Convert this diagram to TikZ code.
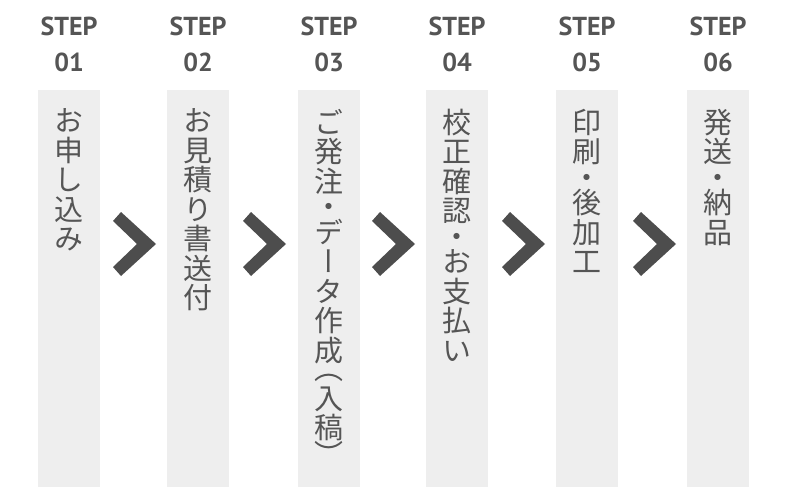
\documentclass[tikz,border=0pt]{standalone}
\usepackage{fontspec}
\setmainfont{PT Sans}
\newfontfamily\jpfont[RawFeature=+vert]{Noto Sans CJK JP}
\definecolor{stepgray}{HTML}{555555}
\definecolor{barfill}{HTML}{EEEEEE}
\definecolor{chevgray}{HTML}{4D4D4D}
\tikzset{
  bar/.style={fill=barfill, minimum width=62pt, minimum height=397pt, inner sep=0pt},
  steplabel/.style={anchor=base, text=stepgray, font=\bfseries\fontsize{26}{26}\selectfont},
  steptext/.style={anchor=north, inner sep=0pt, align=center, text=stepgray,
    font=\jpfont\fontsize{29}{29.5}\selectfont},
  chevron/.pic={\fill[chevgray] (0,-23) -- (8,-32) -- (43,0) -- (8,32) -- (0,23) -- (24,0) -- cycle;}
}
\begin{document}
\begin{tikzpicture}[x=1pt,y=-1pt]
	\useasboundingbox (0,0) rectangle (800,500);
	
	\node[bar] (bar1) at (69,288.5) {};
	\node[bar] (bar2) at (198,288.5) {};
	\node[bar] (bar3) at (329,288.5) {};
	\node[bar] (bar4) at (457,288.5) {};
	\node[bar] (bar5) at (587,288.5) {};
	\node[bar] (bar6) at (718,288.5) {};
	
	\node[steplabel] (step1) at (69,36) {STEP};
	\node[steplabel] (step2) at (198,36) {STEP};
	\node[steplabel] (step3) at (329,36) {STEP};
	\node[steplabel] (step4) at (457,36) {STEP};
	\node[steplabel] (step5) at (587,36) {STEP};
	\node[steplabel] (step6) at (718,36) {STEP};
	
	\node[steplabel] (num1) at (69,72) {01};
	\node[steplabel] (num2) at (198,72) {02};
	\node[steplabel] (num3) at (329,72) {03};
	\node[steplabel] (num4) at (457,72) {04};
	\node[steplabel] (num5) at (587,72) {05};
	\node[steplabel] (num6) at (718,72) {06};
	
	\node[steptext] (text1) at ([yshift=-19pt]bar1.north) {お\\申\\し\\込\\み};
	\node[steptext] (text2) at ([yshift=-19pt]bar2.north) {お\\見\\積\\り\\書\\送\\付};
	\node[steptext] (text3) at ([yshift=-19pt]bar3.north) {ご\\発\\注\\[-4pt]・\\[-4pt]デ\\ー\\タ\\作\\成\\[-11pt]（\\入\\稿\\[-3pt]）};
	\node[steptext] (text4) at ([yshift=-19pt]bar4.north) {校\\正\\確\\認\\[-4pt]・\\[-4pt]お\\支\\払\\い};
	\node[steptext] (text5) at ([yshift=-19pt]bar5.north) {印\\刷\\[-4pt]・\\[-4pt]後\\加\\工};
	\node[steptext] (text6) at ([yshift=-19pt]bar6.north) {発\\送\\[-4pt]・\\[-4pt]納\\品};
	
	\pic (chev1) at (113,244) {chevron};
	\pic (chev2) at (243,244) {chevron};
	\pic (chev3) at (372,244) {chevron};
	\pic (chev4) at (502,244) {chevron};
	\pic (chev5) at (633,244) {chevron};
\end{tikzpicture}
\end{document}
